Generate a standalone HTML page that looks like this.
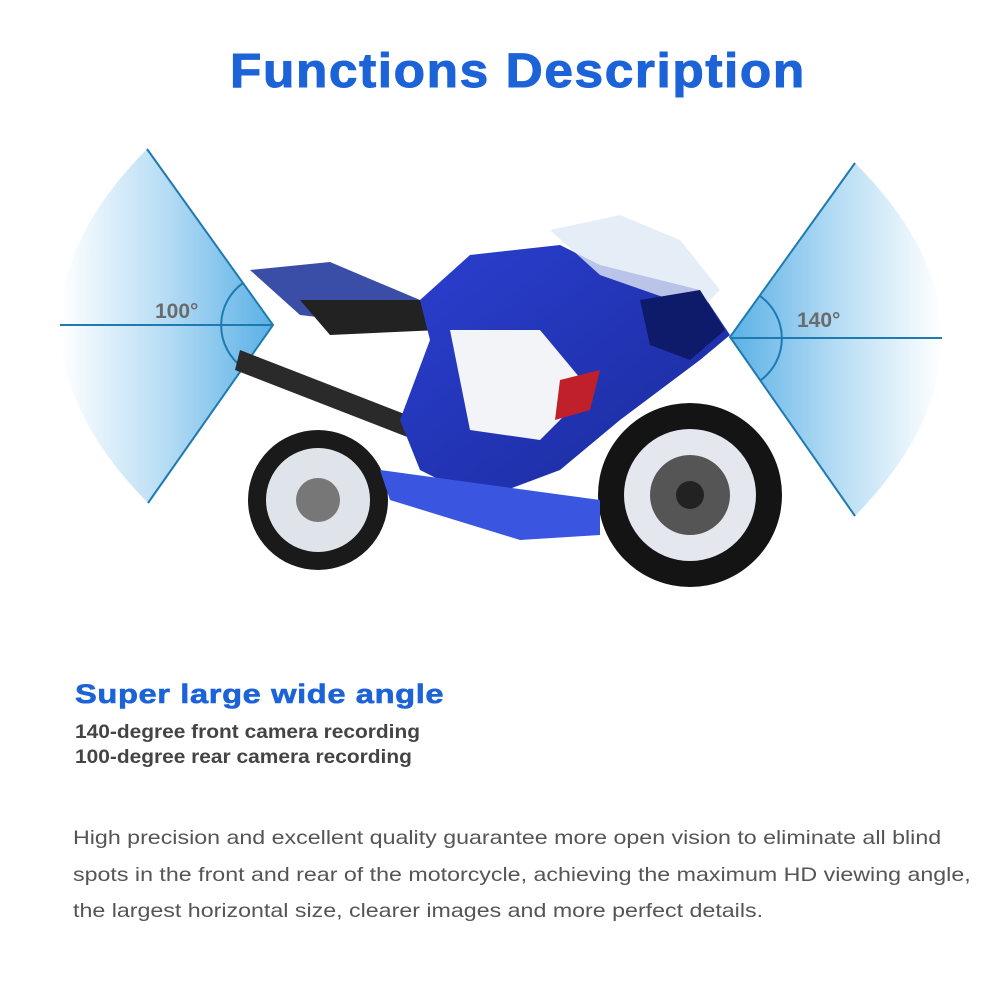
<!DOCTYPE html>
<html><head><meta charset="utf-8"><style>
body{margin:0;width:1002px;height:1002px;background:#fff;position:relative;overflow:hidden;font-family:"Liberation Sans",Arial,sans-serif}
.t{position:absolute;white-space:nowrap;transform-origin:0 0}
</style></head><body>
<svg width="1002" height="1002" style="position:absolute;left:0;top:0">
<defs>
<linearGradient id="gl" x1="1" y1="0" x2="0" y2="0"><stop offset="0" stop-color="#5ab0e6"/><stop offset="0.5" stop-color="#b5dcf4"/><stop offset="1" stop-color="#fff"/></linearGradient>
<linearGradient id="gr" x1="0" y1="0" x2="1" y2="0"><stop offset="0" stop-color="#5ab0e6"/><stop offset="0.5" stop-color="#b5dcf4"/><stop offset="1" stop-color="#fff"/></linearGradient>
<linearGradient id="body" x1="0" y1="0" x2="1" y2="1"><stop offset="0" stop-color="#2a3fd0"/><stop offset="1" stop-color="#1a2a9a"/></linearGradient>
</defs>
<path d="M273,325 L147,149 Q-27,325 148,503 Z" fill="url(#gl)"/>
<path d="M730,337 L855,163 Q1029,337 855,516 Z" fill="url(#gr)"/>
<g stroke="#1f7ab0" stroke-width="2" fill="none">
<path d="M147,149 L273,325 L148,503"/><path d="M60,325 L273,325"/>
<path d="M243,283 A52,52 0 0 0 242,367"/>
<path d="M855,163 L730,337 L855,516"/><path d="M730,338 L942,338"/>
<path d="M760,296 A52,52 0 0 1 761,380"/>
</g>
<circle cx="318" cy="500" r="70" fill="#1a1a1a"/><circle cx="318" cy="500" r="52" fill="#dfe4ea"/><circle cx="318" cy="500" r="22" fill="#777"/>
<circle cx="690" cy="495" r="92" fill="#141414"/><circle cx="690" cy="495" r="66" fill="#e4e8ee"/><circle cx="690" cy="495" r="40" fill="#555"/><circle cx="690" cy="495" r="14" fill="#222"/>
<path d="M240,350 L420,420 L415,440 L235,370 Z" fill="#2a2a2a"/>
<path d="M250,270 L330,262 L420,300 L430,330 L300,315 Z" fill="#3a4ea8"/>
<path d="M300,300 L420,300 L440,330 L330,335 Z" fill="#222"/>
<path d="M420,300 L470,255 L560,245 L600,265 L700,290 L730,335 L700,360 L620,420 L560,470 L480,500 L420,470 L400,420 L430,340 Z" fill="url(#body)"/>
<path d="M450,330 L540,330 L590,390 L540,440 L470,430 Z" fill="#f2f4f8"/>
<path d="M380,470 L600,500 L600,535 L520,540 L390,500 Z" fill="#3a56e0"/>
<path d="M550,230 L620,215 L680,240 L720,290 L700,310 L600,275 Z" fill="#dfe8f4" opacity="0.8"/>
<path d="M640,300 L700,290 L725,330 L690,360 L650,345 Z" fill="#0e1a6a"/>
<path d="M560,380 L600,370 L590,410 L555,420 Z" fill="#c0202a"/>
</svg>
<div class="t" style="left:230px;top:44px;font-size:48px;font-weight:bold;color:#1d63d8;letter-spacing:1.5px;transform:scaleX(1.07);-webkit-text-stroke:1px #1d63d8">Functions Description</div>
<div class="t" style="left:155px;top:300px;font-size:21px;font-weight:bold;color:#6b6b6b">100°</div>
<div class="t" style="left:797px;top:309px;font-size:21px;font-weight:bold;color:#6b6b6b">140°</div>
<div class="t" style="left:75px;top:679px;font-size:27px;font-weight:bold;color:#1d63d8;letter-spacing:0.5px;transform:scaleX(1.21);-webkit-text-stroke:0.6px #1d63d8">Super large wide angle</div>
<div class="t" style="left:75px;top:722px;font-size:19px;font-weight:bold;color:#444;transform:scaleX(1.10)">140-degree front camera recording</div>
<div class="t" style="left:75px;top:747px;font-size:19px;font-weight:bold;color:#444;transform:scaleX(1.10)">100-degree rear camera recording</div>
<div class="t" style="left:73px;top:820px;font-size:19.5px;color:#555;line-height:36.5px;transform:scaleX(1.19)">High precision and excellent quality guarantee more open vision to eliminate all blind<br>spots in the front and rear of the motorcycle, achieving the maximum HD viewing angle,<br>the largest horizontal size, clearer images and more perfect details.</div>
</body></html>
